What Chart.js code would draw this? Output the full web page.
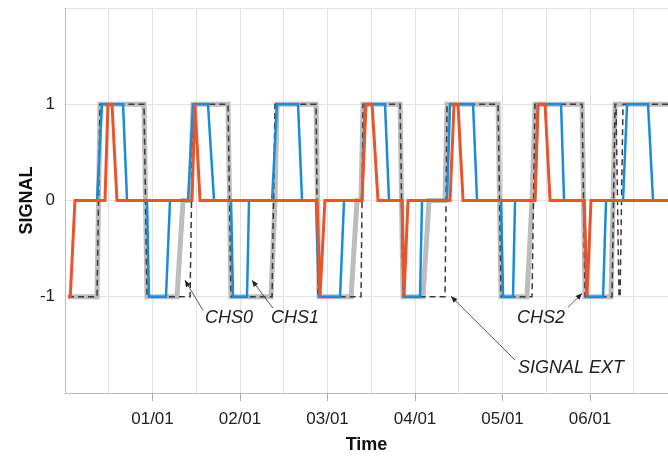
<!DOCTYPE html>
<html>
<head>
<meta charset="utf-8">
<script src="https://cdn.jsdelivr.net/npm/chart.js@4.4.1/dist/chart.umd.min.js"></script>
<style>
body { margin: 0; background: #fff; }
</style>
</head>
<body>
<canvas id="signalChart" width="668" height="456"></canvas>
<script>
// x is in months, 0 = left edge of the plot
var monthLabels = ['01/01', '02/01', '03/01', '04/01', '05/01', '06/01'];
var signalTicks = [-1, 0, 1];

var chs0Time = [0.034, 0.366, 0.4, 0.903, 0.937, 1.28, 1.349, 1.429, 1.463, 1.863, 1.897, 2.354, 2.4, 2.423,
	2.869, 2.903, 3.269, 3.337, 3.383, 3.406, 3.829, 3.863, 4.091, 4.16, 4.343, 4.366, 4.949, 4.983,
	5.28, 5.337, 5.371, 5.909, 5.943, 6.24, 6.286, 6.891];
var chs0Signal = [-1, -1, 1, 1, -1, -1, 0, 0, 1, 1, -1, -1, 0, 1,
	1, -1, -1, 0, 0, 1, 1, -1, -1, 0, 0, 1, 1, -1,
	-1, 0, 1, 1, -1, -1, 1, 1];

var chs1Time = [0.114, 0.366, 0.423, 0.663, 0.709, 0.937, 0.96, 1.154, 1.2, 1.406, 1.463, 1.634, 1.703,
	1.897, 1.92, 2.08, 2.103, 2.366, 2.423, 2.663, 2.709, 2.869, 2.903, 3.143, 3.189, 3.394, 3.429,
	3.657, 3.703, 3.851, 3.874, 4.057, 4.08, 4.366, 4.4, 4.663, 4.709, 4.983, 5.006, 5.12, 5.143,
	5.371, 5.406, 5.669, 5.703, 5.931, 5.966, 6.149, 6.183, 6.377, 6.423, 6.663, 6.72, 6.891];
var chs1Signal = [0, 0, 1, 1, 0, 0, -1, -1, 0, 0, 1, 1, 0,
	0, -1, -1, 0, 0, 1, 1, 0, 0, -1, -1, 0, 0, 1,
	1, 0, 0, -1, -1, 0, 0, 1, 1, 0, 0, -1, -1, 0,
	0, 1, 1, 0, 0, -1, -1, 0, 0, 1, 1, 0, 0];

var chs2Time = [0.034, 0.06, 0.114, 0.457, 0.491, 0.537, 0.594, 1.451, 1.486, 1.543, 2.88, 2.914, 2.971,
	3.394, 3.44, 3.509, 3.577, 3.851, 3.874, 3.92, 4.4, 4.446, 4.491, 4.549, 5.371, 5.406, 5.486,
	5.543, 5.931, 5.966, 6.011, 6.891];
var chs2Signal = [-1, -1, 0, 0, 1, 1, 0, 0, 1, 0, 0, -1, 0,
	0, 1, 1, 0, 0, -1, 0, 0, 1, 1, 0, 0, 1, 1,
	0, 0, -1, 0, 0];

var extTime = [0.034, 0.366, 0.4, 0.903, 0.937, 1.429, 1.463, 1.863, 1.897, 2.366, 2.4, 2.869, 2.891,
	3.383, 3.406, 3.829, 3.863, 4.343, 4.366, 4.949, 4.983, 5.337, 5.371, 5.909, 5.943, 6.251, 6.286,
	6.297, 6.331, 6.343, 6.377, 6.891];
var extSignal = [-1, -1, 1, 1, -1, -1, 1, 1, -1, -1, 1, 1, -1,
	-1, 1, 1, -1, -1, 1, 1, -1, -1, 1, 1, -1, -1, 1,
	1, -1, -1, 1, 1];

// labels with arrows, in data units
var notes = [
	{ text: 'CHS0', x: 1.874, y: -1.223, fromX: 1.577, fromY: -1.14, toX: 1.371, toY: -0.829 },
	{ text: 'CHS1', x: 2.629, y: -1.223, fromX: 2.377, fromY: -1.119, toX: 2.137, toY: -0.829 },
	{ text: 'CHS2', x: 5.44, y: -1.223, fromX: 5.749, fromY: -1.109, toX: 5.909, toY: -0.964 },
	{ text: 'SIGNAL EXT', x: 5.783, y: -1.741, fromX: 5.143, fromY: -1.658, toX: 4.411, toY: -0.995 }
];

var FONT = '"Liberation Sans", Arial, sans-serif';

function pairs(xs, ys) {
	return xs.map(function(x, i) { return { x: x, y: ys[i] }; });
}

var notePlugin = {
	id: 'notes',
	afterDatasetsDraw: function(chart) {
		var ctx = chart.ctx, sx = chart.scales.x, sy = chart.scales.y;
		ctx.save();
		notes.forEach(function(n) {
			var x1 = sx.getPixelForValue(n.fromX), y1 = sy.getPixelForValue(n.fromY);
			var x2 = sx.getPixelForValue(n.toX), y2 = sy.getPixelForValue(n.toY);
			ctx.strokeStyle = '#555';
			ctx.lineWidth = 1;
			ctx.beginPath();
			ctx.moveTo(x1, y1);
			ctx.lineTo(x2, y2);
			ctx.stroke();
			var a = Math.atan2(y2 - y1, x2 - x1);
			ctx.fillStyle = '#222';
			ctx.beginPath();
			ctx.moveTo(x2, y2);
			ctx.lineTo(x2 - 7 * Math.cos(a - 0.4), y2 - 7 * Math.sin(a - 0.4));
			ctx.lineTo(x2 - 7 * Math.cos(a + 0.4), y2 - 7 * Math.sin(a + 0.4));
			ctx.closePath();
			ctx.fill();
			ctx.font = 'italic 18px ' + FONT;
			ctx.textAlign = 'center';
			ctx.textBaseline = 'middle';
			ctx.fillText(n.text, sx.getPixelForValue(n.x), sy.getPixelForValue(n.y));
		});
		ctx.restore();
	}
};

var config = {
	type: 'line',
	data: {
		datasets: [{
			label: 'CHS2',
			data: pairs(chs2Time, chs2Signal),
			borderColor: '#E8542B',
			borderWidth: 3,
			order: 0
		}, {
			label: 'CHS1',
			data: pairs(chs1Time, chs1Signal),
			borderColor: '#1A8CD8',
			borderWidth: 2.5,
			order: 1
		}, {
			label: 'SIGNAL EXT',
			data: pairs(extTime, extSignal),
			borderColor: '#3a3a3a',
			borderWidth: 1.5,
			borderDash: [6, 4],
			order: 2
		}, {
			label: 'CHS0',
			data: pairs(chs0Time, chs0Signal),
			borderColor: '#BDBDBD',
			borderWidth: 5,
			order: 3
		}]
	},
	options: {
		responsive: false,
		animation: false,
		layout: { padding: { top: 8, right: 0, left: 0, bottom: 0 } },
		elements: {
			point: { radius: 0 },
			line: { tension: 0, fill: false }
		},
		plugins: {
			legend: { display: false },
			tooltip: { enabled: false }
		},
		scales: {
			x: {
				type: 'linear',
				min: 0,
				max: 6.891,
				afterBuildTicks: function(scale) {
					var t = [];
					for (var v = 0; v <= 6.5; v += 0.5) t.push({ value: v });
					scale.ticks = t;
				},
				afterFit: function(scale) {
					scale.height = 63;
					scale.paddingLeft = 0;
					scale.paddingRight = 0;
				},
				ticks: {
					autoSkip: false,
					maxRotation: 0,
					padding: 8,
					color: '#222',
					font: { family: FONT, size: 17 },
					callback: function(v) {
						return (v % 1 === 0 && v >= 1) ? monthLabels[v - 1] : '';
					}
				},
				grid: {
					color: '#e2e2e2',
					tickLength: 8,
					tickColor: function(c) {
						return (c.tick && c.tick.value % 1 === 0 && c.tick.value >= 1) ? '#aaa' : 'rgba(0,0,0,0)';
					}
				},
				border: { color: '#bbb' },
				title: {
					display: true,
					text: 'Time',
					color: '#111',
					font: { family: FONT, size: 18, weight: 'bold' },
					padding: { top: 0, bottom: 0 }
				}
			},
			y: {
				min: -2,
				max: 2,
				afterBuildTicks: function(scale) {
					scale.ticks = [-2, -1, 0, 1, 2].map(function(v) { return { value: v }; });
				},
				afterFit: function(scale) {
					scale.width = 65;
					scale.paddingTop = 0;
					scale.paddingBottom = 0;
				},
				ticks: {
					padding: 10,
					color: '#222',
					font: { family: FONT, size: 17 },
					callback: function(v) {
						return signalTicks.indexOf(v) >= 0 ? String(v) : '';
					}
				},
				grid: { color: '#e2e2e2', drawTicks: false },
				border: { color: '#bbb' },
				title: {
					display: true,
					text: 'SIGNAL',
					color: '#111',
					font: { family: FONT, size: 18, weight: 'bold' },
					padding: { top: 16, bottom: 0 }
				}
			}
		}
	},
	plugins: [notePlugin]
};

window.onload = function() {
	var ctx = document.getElementById('signalChart').getContext('2d');
	window.signalChart = new Chart(ctx, config);
};
</script>
</body>
</html>
